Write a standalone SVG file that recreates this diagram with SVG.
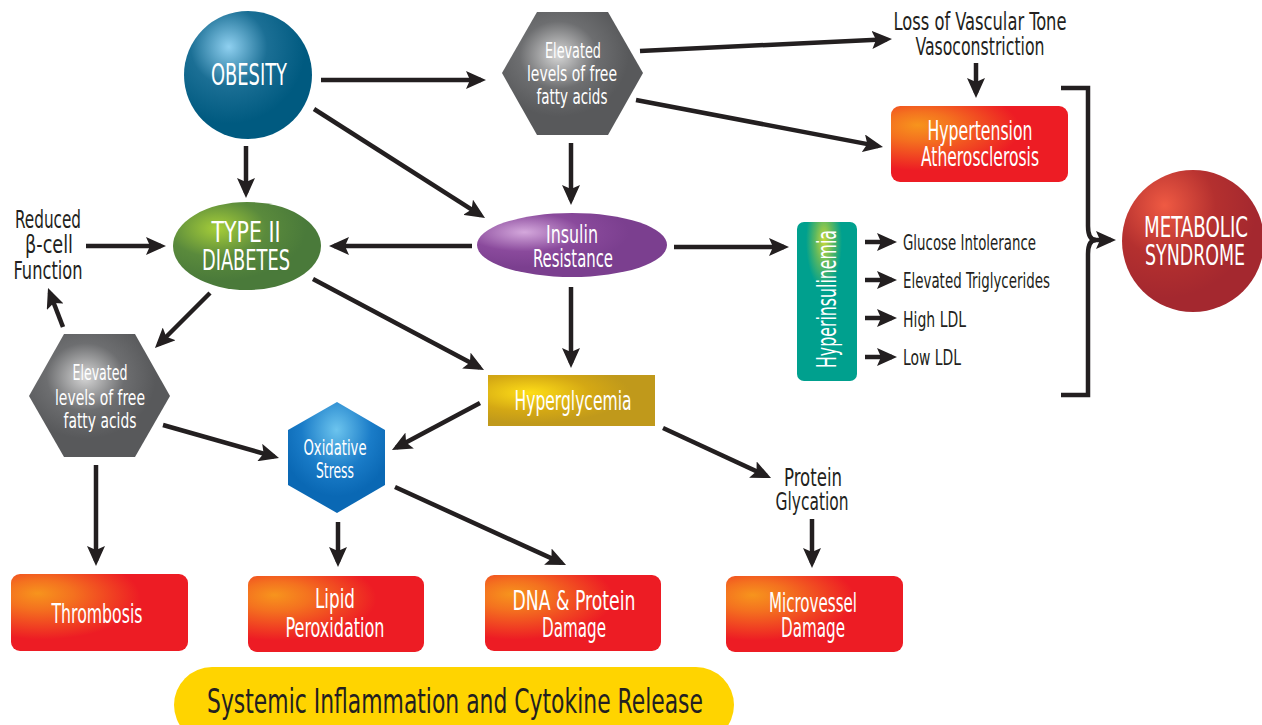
<svg xmlns="http://www.w3.org/2000/svg" width="1262" height="725" viewBox="0 0 1262 725">
<defs>
<style>
text{font-family:"Liberation Sans Narrow","DejaVu Sans Condensed","Liberation Sans",sans-serif;text-anchor:middle;}
.w{fill:#ffffff;}
.k{fill:#231f20;}
.l{text-anchor:start;}
.conn line,.conn path{stroke:#231f20;stroke-width:4.5;fill:none;}
.conn line{marker-end:url(#ah);}
</style>
<marker id="ah" viewBox="0 0 20 18" refX="15" refY="9" markerWidth="20" markerHeight="18" markerUnits="userSpaceOnUse" orient="auto">
<path d="M0,0 L20,9 L0,18 L4,9 Z" fill="#231f20"/>
</marker>
<radialGradient id="gRed" cx="0.18" cy="0.3" r="0.55" fx="0.15" fy="0.25">
<stop offset="0" stop-color="#f7941d"/><stop offset="0.35" stop-color="#f4711f"/><stop offset="1" stop-color="#ed1c24"/>
</radialGradient>
<radialGradient id="gGray" cx="0.4" cy="0.35" r="0.5">
<stop offset="0" stop-color="#d6d6d6"/><stop offset="0.55" stop-color="#6d6e70"/><stop offset="1" stop-color="#58595b"/>
</radialGradient>
<radialGradient id="gBlue" cx="0.35" cy="0.28" r="0.6">
<stop offset="0" stop-color="#8fd0f0"/><stop offset="0.5" stop-color="#1b6f95"/><stop offset="1" stop-color="#005a80"/>
</radialGradient>
<radialGradient id="gGreen" cx="0.3" cy="0.3" r="0.6">
<stop offset="0" stop-color="#a6ce39"/><stop offset="0.55" stop-color="#5a8a3c"/><stop offset="1" stop-color="#4a7a3a"/>
</radialGradient>
<radialGradient id="gPurple" cx="0.25" cy="0.3" r="0.55">
<stop offset="0" stop-color="#d4a8dc"/><stop offset="0.55" stop-color="#8a4a9c"/><stop offset="1" stop-color="#7b3f8f"/>
</radialGradient>
<radialGradient id="gOx" cx="0.5" cy="0.25" r="0.6">
<stop offset="0" stop-color="#6cc4ee"/><stop offset="0.6" stop-color="#1a7cc8"/><stop offset="1" stop-color="#0a68b4"/>
</radialGradient>
<radialGradient id="gGold" cx="0.25" cy="0.35" r="0.6">
<stop offset="0" stop-color="#ffde17"/><stop offset="0.6" stop-color="#d4a814"/><stop offset="1" stop-color="#c0991b"/>
</radialGradient>
<radialGradient id="gTeal" cx="0.45" cy="0.12" r="0.3">
<stop offset="0" stop-color="#c8d83a"/><stop offset="0.5" stop-color="#5cb860"/><stop offset="1" stop-color="#00a08e"/>
</radialGradient>
<radialGradient id="gMet" cx="0.3" cy="0.25" r="0.65">
<stop offset="0" stop-color="#ef5a43"/><stop offset="0.55" stop-color="#b4302f"/><stop offset="1" stop-color="#a4282f"/>
</radialGradient>
</defs>
<rect width="1262" height="725" fill="#ffffff"/>

<g class="conn" id="connectors">
<line x1="321" y1="80" x2="481" y2="80"/>
<line x1="314" y1="109" x2="480.8" y2="215.3"/>
<line x1="246" y1="146" x2="246" y2="193"/>
<line x1="571" y1="143" x2="571" y2="200"/>
<line x1="472" y1="246" x2="334" y2="246"/>
<line x1="640" y1="51" x2="887" y2="39.2"/>
<line x1="636" y1="100" x2="878.1" y2="146.1"/>
<line x1="976" y1="63" x2="976" y2="93"/>
<line x1="674" y1="247" x2="784" y2="247"/>
<line x1="865" y1="242" x2="892" y2="242"/>
<line x1="865" y1="280" x2="892" y2="280"/>
<line x1="865" y1="318" x2="892" y2="318"/>
<line x1="865" y1="357" x2="892" y2="357"/>
<path d="M1061,88 H1088 V226 Q1088,240 1096,240 Q1088,240 1088,254 V395 H1061"/>
<line x1="1094" y1="240" x2="1111" y2="240"/>
<line x1="86" y1="246" x2="161" y2="246"/>
<line x1="63" y1="327" x2="49.8" y2="292.7"/>
<line x1="210" y1="293" x2="158.5" y2="344.5"/>
<line x1="313" y1="279" x2="479.6" y2="367.6"/>
<line x1="163" y1="425" x2="274.2" y2="456.6"/>
<line x1="96" y1="465" x2="96" y2="561"/>
<line x1="480" y1="403" x2="396.4" y2="447.6"/>
<line x1="571" y1="287" x2="571" y2="363"/>
<line x1="663" y1="428" x2="766.5" y2="475.9"/>
<line x1="812" y1="519" x2="812" y2="563"/>
<line x1="338" y1="522" x2="338" y2="562"/>
<line x1="395" y1="487" x2="561.5" y2="562.9"/>
</g>

<g id="obesity">
<circle cx="248" cy="75" r="64" fill="url(#gBlue)"/>
<text class="w" x="249" y="85" font-size="30" textLength="76" lengthAdjust="spacingAndGlyphs">OBESITY</text>
</g>

<g id="ffa-top">
<polygon points="502,73 537,12 608,12 643,73 608,135 537,135" fill="url(#gGray)"/>
<text class="w" x="573" y="58" font-size="21" textLength="56" lengthAdjust="spacingAndGlyphs">Elevated</text>
<text class="w" x="572" y="81" font-size="21" textLength="90" lengthAdjust="spacingAndGlyphs">levels of free</text>
<text class="w" x="572" y="104" font-size="21" textLength="71" lengthAdjust="spacingAndGlyphs">fatty acids</text>
</g>

<g id="vascular">
<text class="k" x="980" y="30" font-size="24" textLength="173" lengthAdjust="spacingAndGlyphs">Loss of Vascular Tone</text>
<text class="k" x="980" y="55" font-size="24" textLength="129" lengthAdjust="spacingAndGlyphs">Vasoconstriction</text>
</g>

<g id="hypertension">
<rect x="891" y="106" width="177" height="76" rx="9" fill="url(#gRed)"/>
<text class="w" x="980" y="140" font-size="26" textLength="105" lengthAdjust="spacingAndGlyphs">Hypertension</text>
<text class="w" x="980" y="166" font-size="26" textLength="118" lengthAdjust="spacingAndGlyphs">Atherosclerosis</text>
</g>

<g id="type2">
<ellipse cx="247" cy="246" rx="74" ry="44" fill="url(#gGreen)"/>
<text class="w" x="246" y="242" font-size="28" textLength="69" lengthAdjust="spacingAndGlyphs">TYPE II</text>
<text class="w" x="246" y="270" font-size="28" textLength="88" lengthAdjust="spacingAndGlyphs">DIABETES</text>
</g>

<g id="insulin">
<ellipse cx="572" cy="245" rx="95" ry="32" fill="url(#gPurple)"/>
<text class="w" x="572" y="243" font-size="25" textLength="52" lengthAdjust="spacingAndGlyphs">Insulin</text>
<text class="w" x="573" y="267" font-size="25" textLength="80" lengthAdjust="spacingAndGlyphs">Resistance</text>
</g>

<g id="reduced">
<text class="k" x="48" y="228" font-size="24" textLength="66" lengthAdjust="spacingAndGlyphs">Reduced</text>
<text class="k" x="49" y="253" font-size="24" textLength="48" lengthAdjust="spacingAndGlyphs">β-cell</text>
<text class="k" x="48" y="279" font-size="24" textLength="69" lengthAdjust="spacingAndGlyphs">Function</text>
</g>

<g id="hyperinsulinemia">
<rect x="797" y="222" width="60" height="159" rx="7" fill="url(#gTeal)"/>
<text class="w" transform="translate(836,299) rotate(-90)" x="0" y="0" font-size="27" textLength="138" lengthAdjust="spacingAndGlyphs">Hyperinsulinemia</text>
</g>

<g id="effects">
<text class="k l" x="903" y="250" font-size="21" textLength="133" lengthAdjust="spacingAndGlyphs">Glucose Intolerance</text>
<text class="k l" x="903" y="288" font-size="21" textLength="147" lengthAdjust="spacingAndGlyphs">Elevated Triglycerides</text>
<text class="k l" x="903" y="327" font-size="21" textLength="63" lengthAdjust="spacingAndGlyphs">High LDL</text>
<text class="k l" x="903" y="365" font-size="21" textLength="58" lengthAdjust="spacingAndGlyphs">Low LDL</text>
</g>

<g id="metabolic">
<circle cx="1193" cy="241" r="71" fill="url(#gMet)"/>
<text class="w" x="1196" y="237" font-size="29" textLength="104" lengthAdjust="spacingAndGlyphs">METABOLIC</text>
<text class="w" x="1195" y="265" font-size="29" textLength="100" lengthAdjust="spacingAndGlyphs">SYNDROME</text>
</g>

<g id="ffa-left">
<polygon points="29,396 64,334 135,334 170,396 135,457 64,457" fill="url(#gGray)"/>
<text class="w" x="100" y="380" font-size="21" textLength="55" lengthAdjust="spacingAndGlyphs">Elevated</text>
<text class="w" x="100" y="405" font-size="21" textLength="90" lengthAdjust="spacingAndGlyphs">levels of free</text>
<text class="w" x="100" y="428" font-size="21" textLength="73" lengthAdjust="spacingAndGlyphs">fatty acids</text>
</g>

<g id="oxidative">
<polygon points="337,402 385,430 385,485 337,513 288,485 288,430" fill="url(#gOx)"/>
<text class="w" x="335" y="455" font-size="22" textLength="63" lengthAdjust="spacingAndGlyphs">Oxidative</text>
<text class="w" x="335" y="478" font-size="22" textLength="38" lengthAdjust="spacingAndGlyphs">Stress</text>
</g>

<g id="hyperglycemia">
<rect x="488" y="375" width="167" height="51" fill="url(#gGold)"/>
<text class="w" x="573" y="410" font-size="26" textLength="117" lengthAdjust="spacingAndGlyphs">Hyperglycemia</text>
</g>

<g id="glycation">
<text class="k" x="813" y="486" font-size="24" textLength="58" lengthAdjust="spacingAndGlyphs">Protein</text>
<text class="k" x="812" y="510" font-size="24" textLength="73" lengthAdjust="spacingAndGlyphs">Glycation</text>
</g>

<g id="thrombosis">
<rect x="11" y="574" width="177" height="77" rx="9" fill="url(#gRed)"/>
<text class="w" x="97" y="623" font-size="26" textLength="91" lengthAdjust="spacingAndGlyphs">Thrombosis</text>
</g>

<g id="lipid">
<rect x="248" y="576" width="176" height="76" rx="9" fill="url(#gRed)"/>
<text class="w" x="335" y="608" font-size="26" textLength="40" lengthAdjust="spacingAndGlyphs">Lipid</text>
<text class="w" x="335" y="637" font-size="26" textLength="99" lengthAdjust="spacingAndGlyphs">Peroxidation</text>
</g>

<g id="dna">
<rect x="485" y="575" width="176" height="76" rx="9" fill="url(#gRed)"/>
<text class="w" x="574" y="610" font-size="26" textLength="123" lengthAdjust="spacingAndGlyphs">DNA &amp; Protein</text>
<text class="w" x="574" y="637" font-size="26" textLength="64" lengthAdjust="spacingAndGlyphs">Damage</text>
</g>

<g id="microvessel">
<rect x="726" y="576" width="177" height="76" rx="9" fill="url(#gRed)"/>
<text class="w" x="813" y="612" font-size="26" textLength="88" lengthAdjust="spacingAndGlyphs">Microvessel</text>
<text class="w" x="813" y="637" font-size="26" textLength="64" lengthAdjust="spacingAndGlyphs">Damage</text>
</g>

<g id="inflammation">
<rect x="174" y="667" width="560" height="76" rx="38" fill="#ffd400"/>
<text class="k" x="455" y="713" font-size="33" textLength="496" lengthAdjust="spacingAndGlyphs">Systemic Inflammation and Cytokine Release</text>
</g>
</svg>
